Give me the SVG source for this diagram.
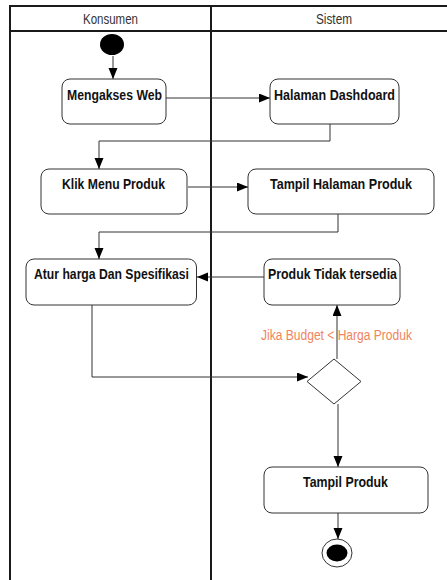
<svg xmlns="http://www.w3.org/2000/svg" width="447" height="580" viewBox="0 0 447 580">
  <style>
    .lane { stroke: #1a1a1a; stroke-width: 2; fill: none; }
    .lane-title { font-family: "Liberation Sans Narrow", "Liberation Sans", Arial, sans-serif; font-size: 14px; fill: #333333; text-anchor: middle; }
    .action { fill: #ffffff; stroke: #333333; stroke-width: 1; }
    .action-label { font-family: "Liberation Sans Narrow", "Liberation Sans", Arial, sans-serif; font-size: 15px; font-weight: bold; fill: #111111; text-anchor: middle; }
    .flow { fill: none; stroke: #333333; stroke-width: 1; marker-end: url(#arrow); }
    .guard { font-family: "Liberation Sans Narrow", "Liberation Sans", Arial, sans-serif; font-size: 14.7px; fill: #f0845c; text-anchor: middle; }
  </style>
  <defs>
    <marker id="arrow" markerUnits="userSpaceOnUse" markerWidth="12" markerHeight="10" refX="11" refY="4.5" orient="auto">
      <path d="M0,0 L11,4.5 L0,9 Z" fill="#000000"/>
    </marker>
  </defs>
  <rect x="0" y="0" width="447" height="580" fill="#ffffff"/>

  <!-- swimlanes -->
  <g id="lanes">
    <line class="lane" x1="10" y1="6" x2="447" y2="6"/>
    <line class="lane" x1="10" y1="31" x2="447" y2="31"/>
    <line class="lane" x1="10" y1="5" x2="10" y2="580"/>
    <line class="lane" x1="211" y1="5" x2="211" y2="580"/>
    <text class="lane-title" x="110.5" y="23.5" textLength="55" lengthAdjust="spacingAndGlyphs">Konsumen</text>
    <text class="lane-title" x="334" y="23.5" textLength="36" lengthAdjust="spacingAndGlyphs">Sistem</text>
  </g>

  <!-- connectors -->
  <g id="connectors">
    <path class="flow" d="M113 56 V79"/>
    <path class="flow" d="M166 98 H270"/>
    <path class="flow" d="M330 124 V141 H99 V169"/>
    <path class="flow" d="M188 187 H248"/>
    <path class="flow" d="M338 214 V232 H99 V259"/>
    <path class="flow" d="M264 277 H197"/>
    <path class="flow" d="M92 305 V377 H308"/>
    <path class="flow" d="M337 359 V305"/>
    <path class="flow" d="M338 404 V467"/>
    <path class="flow" d="M338 513 V539"/>
    <text class="guard" x="336.5" y="340" textLength="151" lengthAdjust="spacingAndGlyphs">Jika Budget &lt; Harga Produk</text>
  </g>

  <g id="start">
    <ellipse cx="112" cy="44.5" rx="12" ry="10.5" fill="#000000"/>
  </g>

  <g id="mengakses-web">
    <rect class="action" x="62" y="79" width="104" height="45" rx="8"/>
    <text class="action-label" x="114.5" y="100" textLength="95" lengthAdjust="spacingAndGlyphs">Mengakses Web</text>
  </g>

  <g id="halaman-dashdoard">
    <rect class="action" x="270" y="79" width="129" height="45" rx="8"/>
    <text class="action-label" x="334.5" y="100" textLength="121" lengthAdjust="spacingAndGlyphs">Halaman Dashdoard</text>
  </g>

  <g id="klik-menu-produk">
    <rect class="action" x="41" y="169" width="146" height="45" rx="8"/>
    <text class="action-label" x="113.5" y="189" textLength="103" lengthAdjust="spacingAndGlyphs">Klik Menu Produk</text>
  </g>

  <g id="tampil-halaman-produk">
    <rect class="action" x="248" y="169" width="186" height="45" rx="8"/>
    <text class="action-label" x="341" y="189" textLength="142" lengthAdjust="spacingAndGlyphs">Tampil Halaman Produk</text>
  </g>

  <g id="atur-harga">
    <rect class="action" x="26" y="259" width="170.5" height="46" rx="8"/>
    <text class="action-label" x="111.5" y="279" textLength="155" lengthAdjust="spacingAndGlyphs">Atur harga Dan Spesifikasi</text>
  </g>

  <g id="produk-tidak-tersedia">
    <rect class="action" x="264" y="259" width="136" height="46" rx="8"/>
    <text class="action-label" x="332.5" y="279" textLength="129" lengthAdjust="spacingAndGlyphs">Produk Tidak tersedia</text>
  </g>

  <g id="decision">
    <polygon points="334,359 361,381.5 334,404 307,381.5" fill="#ffffff" stroke="#333333" stroke-width="1"/>
  </g>

  <g id="tampil-produk">
    <rect class="action" x="264" y="467" width="164" height="46" rx="8"/>
    <text class="action-label" x="345.5" y="487" textLength="85" lengthAdjust="spacingAndGlyphs">Tampil Produk</text>
  </g>

  <g id="end">
    <ellipse cx="337" cy="553" rx="15" ry="14" fill="#ffffff" stroke="#333333" stroke-width="1"/>
    <ellipse cx="337" cy="553" rx="10.5" ry="8.5" fill="#000000"/>
  </g>
</svg>
